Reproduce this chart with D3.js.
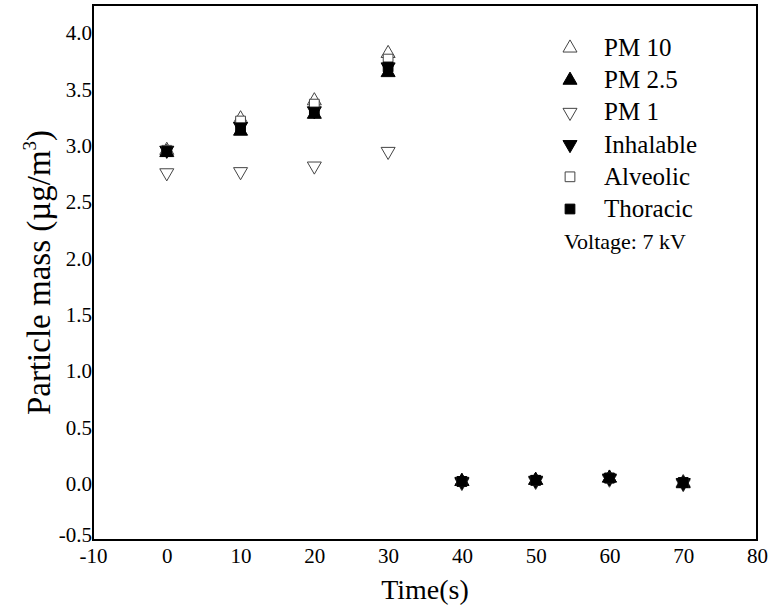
<!DOCTYPE html>
<html>
<head>
<meta charset="utf-8">
<script src="https://cdn.jsdelivr.net/npm/d3@7"></script>
<style>
  body { margin: 0; background: #fff; }
  svg text { font-family: "Liberation Serif", "Times New Roman", serif; fill: #000; }
</style>
</head>
<body>
<div id="chart"></div>
<script>
// time points (s)
const times = [0, 10, 20, 30, 40, 50, 60, 70];

// particle mass per series (ug/m3)
const pm10      = [2.96, 3.24, 3.40, 3.82, 0.02, 0.03, 0.05, 0.01];
const pm25      = [2.94, 3.13, 3.28, 3.65, 0.02, 0.03, 0.05, 0.00];
const pm1       = [2.76, 2.77, 2.82, 2.95, 0.01, 0.02, 0.04, 0.00];
const inhalable = [2.96, 3.17, 3.31, 3.70, 0.02, 0.03, 0.05, 0.01];
const alveolic  = [2.96, 3.22, 3.37, 3.77, 0.02, 0.03, 0.05, 0.01];
const thoracic  = [2.95, 3.16, 3.30, 3.70, 0.02, 0.03, 0.05, 0.01];

const seriesNames = ["PM 10", "PM 2.5", "PM 1", "Inhalable", "Alveolic", "Thoracic"];
const seriesValues = [pm10, pm25, pm1, inhalable, alveolic, thoracic];

const xTicks = [-10, 0, 10, 20, 30, 40, 50, 60, 70, 80];
const yTicks = [-0.5, 0.0, 0.5, 1.0, 1.5, 2.0, 2.5, 3.0, 3.5, 4.0];

const width = 771, height = 607;
const margin = {top: 5, right: 14, bottom: 67, left: 93};

const svg = d3.select("#chart")
    .append("svg")
    .attr("width", width)
    .attr("height", height);

const x = d3.scaleLinear().domain([-10, 80]).range([margin.left, width - margin.right]);
const y = d3.scaleLinear().domain([-0.5, 4.25]).range([height - margin.bottom, margin.top]);

// marker style per series
const markers = [
    {type: d3.symbolTriangle, size: 85, fill: "#fff", rotate: 0},
    {type: d3.symbolTriangle, size: 85, fill: "#000", rotate: 0},
    {type: d3.symbolTriangle, size: 85, fill: "#fff", rotate: 180},
    {type: d3.symbolTriangle, size: 85, fill: "#000", rotate: 180},
    {type: d3.symbolSquare, size: 95, fill: "#fff", rotate: 0},
    {type: d3.symbolSquare, size: 95, fill: "#000", rotate: 0}
];

function drawMarker(g, m, cx, cy) {
    g.append("path")
        .attr("d", d3.symbol().type(m.type).size(m.size)())
        .attr("transform", `translate(${cx},${cy}) rotate(${m.rotate})`)
        .attr("fill", m.fill)
        .attr("stroke", m.fill === "#fff" ? "#444" : "#000")
        .attr("stroke-width", 1);
}

// plain hyphen for negatives, like the original
const fmtX = d => String(d);
const fmtY = d => d.toFixed(1);

// axes without tick marks
const xAxis = svg.append("g")
    .attr("transform", `translate(0,${height - margin.bottom})`)
    .call(d3.axisBottom(x).tickValues(xTicks).tickSize(0).tickPadding(8).tickFormat(fmtX));
xAxis.select(".domain").remove();
xAxis.selectAll("text").style("font-size", "21px").style("font-family", "'Liberation Serif', serif");

const yAxis = svg.append("g")
    .attr("transform", `translate(${margin.left},0)`)
    .call(d3.axisLeft(y).tickValues(yTicks).tickSize(0).tickPadding(1).tickFormat(fmtY));
yAxis.select(".domain").remove();
yAxis.selectAll("text").style("font-size", "21px").style("font-family", "'Liberation Serif', serif");
// lift the bottom label a little so it clears the -10 below it
yAxis.selectAll("text").filter(d => d === -0.5).attr("dy", "0.05em");

// data points
const pts = svg.append("g");
seriesValues.forEach(function (vals, i) {
    vals.forEach(function (v, j) {
        drawMarker(pts, markers[i], x(times[j]), y(v));
    });
});

// frame
svg.append("rect")
    .attr("x", margin.left)
    .attr("y", margin.top)
    .attr("width", width - margin.left - margin.right)
    .attr("height", height - margin.top - margin.bottom)
    .attr("fill", "none")
    .attr("stroke", "#000")
    .attr("stroke-width", 2);

// axis titles
svg.append("text")
    .attr("x", (margin.left + width - margin.right) / 2)
    .attr("y", 599)
    .attr("text-anchor", "middle")
    .style("font-size", "28px")
    .text("Time(s)");

const yl = svg.append("text")
    .attr("transform", `translate(50,${(margin.top + height - margin.bottom) / 2}) rotate(-90)`)
    .attr("text-anchor", "middle")
    .style("font-size", "33px");
yl.append("tspan").text("Particle mass (\u00b5g/m");
yl.append("tspan").style("font-size", "19px").attr("dy", -14).text("3");
yl.append("tspan").attr("dy", 14).text(")");

// legend
const legend = svg.append("g");
seriesNames.forEach(function (name, i) {
    const ly = 48 + i * 32.2;
    drawMarker(legend, markers[i], 570, ly);
    legend.append("text")
        .attr("x", 604)
        .attr("y", ly + 8)
        .style("font-size", "25px")
        .text(name);
});
legend.append("text")
    .attr("x", 564)
    .attr("y", 249)
    .style("font-size", "22px")
    .text("Voltage: 7 kV");
</script>
</body>
</html>
